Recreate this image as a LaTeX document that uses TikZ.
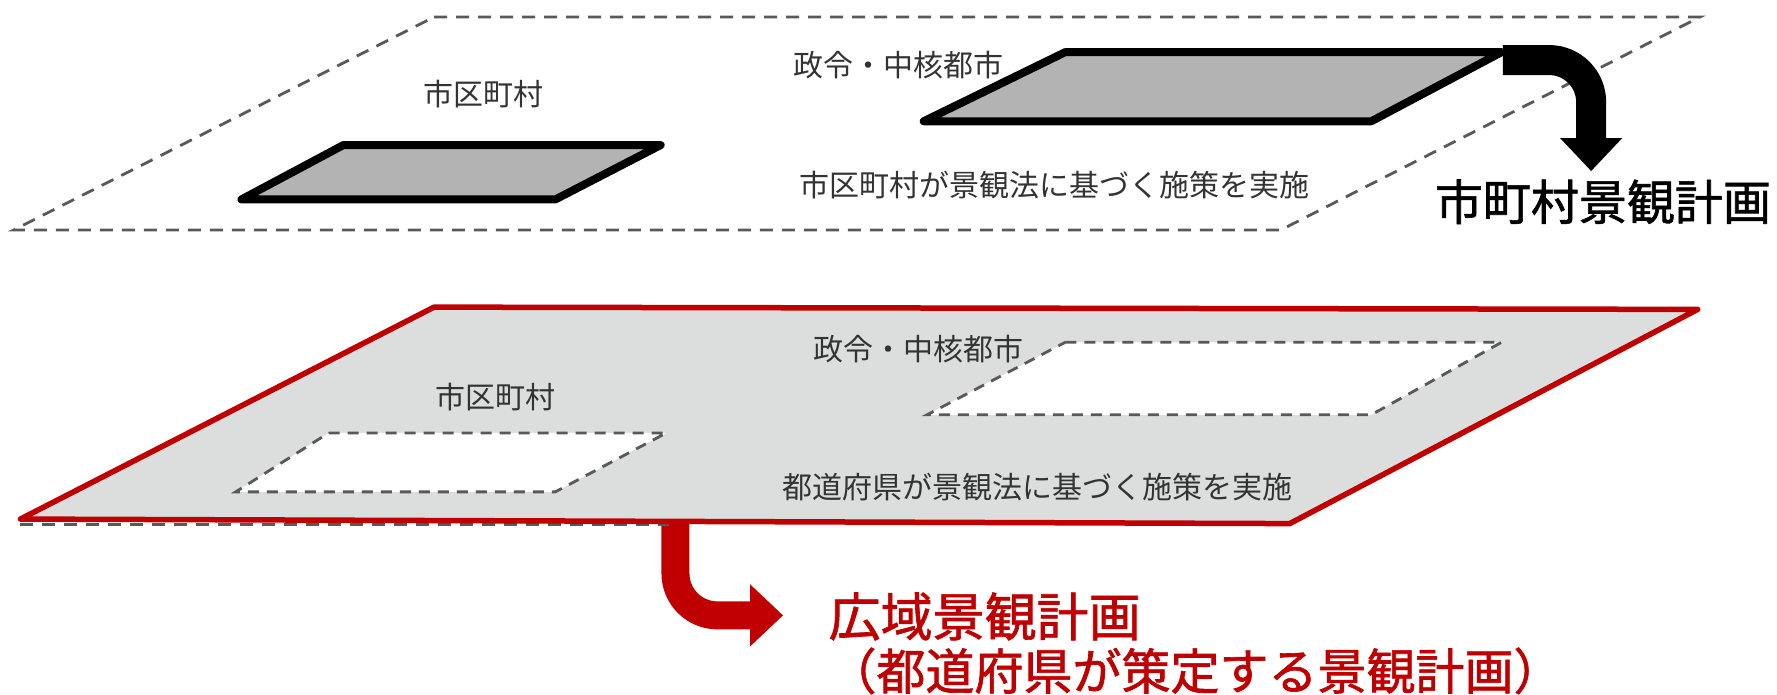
\documentclass[tikz,border=0pt]{standalone}
\usepackage{fontspec}
\newfontfamily\jp{Noto Sans CJK JP}
\newfontfamily\jpb[FakeBold=1.3]{Noto Sans CJK JP}
\usetikzlibrary{arrows.meta}
\definecolor{dred}{HTML}{C00000}
\definecolor{dgray}{HTML}{595959}
\definecolor{pgray}{HTML}{B3B3B3}
\definecolor{lgray}{HTML}{DCDDDD}
\definecolor{txt}{HTML}{333333}
\tikzset{
  planedash/.style={draw=dgray, dash pattern=on 13pt off 9pt, line width=2.8pt},
  cityblk/.style={draw=black, fill=pgray, line width=8pt, line join=round},
  prefplane/.style={draw=dred, fill=lgray, line width=5.5pt, line join=round},
  hole/.style={draw=dgray, fill=white, dash pattern=on 11pt off 8pt, line width=2.8pt},
  lbl/.style={font=\jp\fontsize{30}{30}\selectfont, text=txt, inner sep=0pt},
  biglbl/.style={font=\jpb\fontsize{48}{48}\selectfont, inner sep=0pt},
  bigarrow/.style={line width=30pt, rounded corners=42pt,
    -{Triangle[width=60pt,length=33pt]}},
}
\begin{document}
\begin{tikzpicture}[x=1.13329pt,y=-1.13329pt]
\useasboundingbox (0,0) rectangle (1568,613);

% ---------- upper plane (municipal) ----------
\draw[planedash] (383,15) -- (1500,15) -- (1130,203) -- (12,203) -- cycle;

% black arrow (behind the block)
\coordinate (bstart) at (1326,53);
\coordinate (bend) at (1404,151);
\draw[bigarrow] (bstart) -- (1404,53) -- (bend);

\draw[cityblk] (303,128) -- (583,128) -- (490,176) -- (213,176) -- cycle;
\draw[cityblk] (940,46) -- (1325,46) -- (1210,107) -- (815,107) -- cycle;

\node[lbl] (u1) at (427,83) {市区町村};
\node[lbl, anchor=west] (u2) at (700,57) {政令・中核都市};
\node[lbl, anchor=west] (u3) at (705,163) {市区町村が景観法に基づく施策を実施};
\node[biglbl, anchor=west] (ulab) at (1266,178) {市町村景観計画};

% ---------- lower plane (prefecture) ----------
\coordinate (rstart) at (596,455);
\coordinate (rend) at (691,543);
\draw[bigarrow, draw=dred, line width=28pt] (rstart) -- (596,543) -- (rend);

\draw[planedash] (18,463) -- (590,463);
\draw[prefplane] (383,271) -- (1498,273) -- (1138,462) -- (18,458) -- cycle;
\draw[hole] (290,382) -- (588,382) -- (490,434) -- (208,434) -- cycle;
\draw[hole] (940,302) -- (1325,302) -- (1210,366) -- (818,366) -- cycle;

\node[lbl, anchor=west] (l1) at (718,308) {政令・中核都市};
\node[lbl] (l2) at (437,350) {市区町村};
\node[lbl, anchor=west] (l3) at (690,430) {都道府県が景観法に基づく施策を実施};

\node[biglbl, anchor=west, text=dred, font=\jpb\fontsize{52}{52}\selectfont] (r1) at (731,544) {広域景観計画};
\node[biglbl, anchor=west, text=dred, font=\jpb\fontsize{49}{49}\selectfont] (r2) at (730,592) {（都道府県が策定する景観計画）};
\end{tikzpicture}
\end{document}
